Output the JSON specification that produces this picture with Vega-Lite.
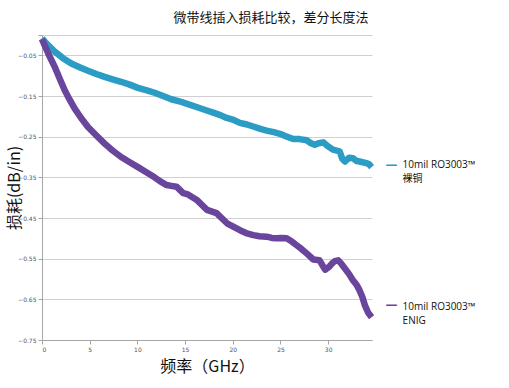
{
  "$schema": "https://vega.github.io/schema/vega-lite/v6.json",
  "width": 330,
  "height": 305,
  "autosize": {"type": "none"},
  "padding": {"left": 42, "top": 35, "right": 137, "bottom": 48},
  "background": "white",
  "title": {
    "text": "微带线插入损耗比较，差分长度法",
    "font": "Noto Sans CJK SC",
    "fontSize": 13,
    "fontWeight": "normal",
    "color": "#111111",
    "anchor": "middle",
    "frame": "group",
    "dx": 64,
    "offset": 10
  },
  "config": {
    "view": {"stroke": null},
    "axis": {
      "labelFont": "DejaVu Sans",
      "labelFontSize": 6,
      "labelColor": "#555555",
      "titleFont": "Noto Sans CJK SC",
      "titleFontSize": 16,
      "titleFontWeight": "normal",
      "titleColor": "#111111",
      "domainColor": "#a6a6a6",
      "tickColor": "#a6a6a6",
      "gridColor": "#d0d0d0",
      "tickSize": 4
    }
  },
  "data": {
    "values": [
      {"s": "10mil RO3003™\n裸铜", "f": 0, "v": -0.008},
      {"s": "10mil RO3003™\n裸铜", "f": 0.5, "v": -0.022},
      {"s": "10mil RO3003™\n裸铜", "f": 1.33, "v": -0.041},
      {"s": "10mil RO3003™\n裸铜", "f": 2.2, "v": -0.057},
      {"s": "10mil RO3003™\n裸铜", "f": 3.07, "v": -0.07},
      {"s": "10mil RO3003™\n裸铜", "f": 4.0, "v": -0.08},
      {"s": "10mil RO3003™\n裸铜", "f": 4.82, "v": -0.088},
      {"s": "10mil RO3003™\n裸铜", "f": 5.7, "v": -0.096},
      {"s": "10mil RO3003™\n裸铜", "f": 6.57, "v": -0.103},
      {"s": "10mil RO3003™\n裸铜", "f": 7.4, "v": -0.109},
      {"s": "10mil RO3003™\n裸铜", "f": 8.3, "v": -0.115},
      {"s": "10mil RO3003™\n裸铜", "f": 9.2, "v": -0.122},
      {"s": "10mil RO3003™\n裸铜", "f": 10.06, "v": -0.13},
      {"s": "10mil RO3003™\n裸铜", "f": 11.0, "v": -0.136},
      {"s": "10mil RO3003™\n裸铜", "f": 11.8, "v": -0.142},
      {"s": "10mil RO3003™\n裸铜", "f": 12.7, "v": -0.15},
      {"s": "10mil RO3003™\n裸铜", "f": 13.55, "v": -0.158},
      {"s": "10mil RO3003™\n裸铜", "f": 14.4, "v": -0.163},
      {"s": "10mil RO3003™\n裸铜", "f": 15.3, "v": -0.17},
      {"s": "10mil RO3003™\n裸铜", "f": 16.2, "v": -0.177},
      {"s": "10mil RO3003™\n裸铜", "f": 17.2, "v": -0.185},
      {"s": "10mil RO3003™\n裸铜", "f": 17.96, "v": -0.191},
      {"s": "10mil RO3003™\n裸铜", "f": 18.7, "v": -0.197},
      {"s": "10mil RO3003™\n裸铜", "f": 19.36, "v": -0.204},
      {"s": "10mil RO3003™\n裸铜", "f": 20.1, "v": -0.209},
      {"s": "10mil RO3003™\n裸铜", "f": 20.75, "v": -0.216},
      {"s": "10mil RO3003™\n裸铜", "f": 21.5, "v": -0.22},
      {"s": "10mil RO3003™\n裸铜", "f": 22.15, "v": -0.225},
      {"s": "10mil RO3003™\n裸铜", "f": 22.9, "v": -0.231},
      {"s": "10mil RO3003™\n裸铜", "f": 23.55, "v": -0.235},
      {"s": "10mil RO3003™\n裸铜", "f": 24.3, "v": -0.239},
      {"s": "10mil RO3003™\n裸铜", "f": 24.95, "v": -0.243},
      {"s": "10mil RO3003™\n裸铜", "f": 25.7, "v": -0.25},
      {"s": "10mil RO3003™\n裸铜", "f": 26.34, "v": -0.256},
      {"s": "10mil RO3003™\n裸铜", "f": 27.0, "v": -0.256},
      {"s": "10mil RO3003™\n裸铜", "f": 27.75, "v": -0.259},
      {"s": "10mil RO3003™\n裸铜", "f": 28.2, "v": -0.266},
      {"s": "10mil RO3003™\n裸铜", "f": 28.6, "v": -0.27},
      {"s": "10mil RO3003™\n裸铜", "f": 29.0, "v": -0.266},
      {"s": "10mil RO3003™\n裸铜", "f": 29.5, "v": -0.264},
      {"s": "10mil RO3003™\n裸铜", "f": 30.0, "v": -0.274},
      {"s": "10mil RO3003™\n裸铜", "f": 30.5, "v": -0.282},
      {"s": "10mil RO3003™\n裸铜", "f": 31.2, "v": -0.286},
      {"s": "10mil RO3003™\n裸铜", "f": 31.5, "v": -0.305},
      {"s": "10mil RO3003™\n裸铜", "f": 31.76, "v": -0.311},
      {"s": "10mil RO3003™\n裸铜", "f": 32.2, "v": -0.302},
      {"s": "10mil RO3003™\n裸铜", "f": 32.6, "v": -0.303},
      {"s": "10mil RO3003™\n裸铜", "f": 33.0, "v": -0.31},
      {"s": "10mil RO3003™\n裸铜", "f": 33.3, "v": -0.311},
      {"s": "10mil RO3003™\n裸铜", "f": 34.0, "v": -0.315},
      {"s": "10mil RO3003™\n裸铜", "f": 34.3, "v": -0.318},
      {"s": "10mil RO3003™\n裸铜", "f": 34.56, "v": -0.325},
      {"s": "10mil RO3003™\nENIG", "f": 0, "v": -0.01},
      {"s": "10mil RO3003™\nENIG", "f": 0.1, "v": -0.016},
      {"s": "10mil RO3003™\nENIG", "f": 0.7, "v": -0.048},
      {"s": "10mil RO3003™\nENIG", "f": 1.33, "v": -0.078},
      {"s": "10mil RO3003™\nENIG", "f": 1.85, "v": -0.107},
      {"s": "10mil RO3003™\nENIG", "f": 2.38, "v": -0.136},
      {"s": "10mil RO3003™\nENIG", "f": 2.9, "v": -0.159},
      {"s": "10mil RO3003™\nENIG", "f": 3.43, "v": -0.181},
      {"s": "10mil RO3003™\nENIG", "f": 4.1, "v": -0.204},
      {"s": "10mil RO3003™\nENIG", "f": 4.82, "v": -0.226},
      {"s": "10mil RO3003™\nENIG", "f": 5.7, "v": -0.247},
      {"s": "10mil RO3003™\nENIG", "f": 6.57, "v": -0.267},
      {"s": "10mil RO3003™\nENIG", "f": 7.4, "v": -0.284},
      {"s": "10mil RO3003™\nENIG", "f": 8.3, "v": -0.3},
      {"s": "10mil RO3003™\nENIG", "f": 9.2, "v": -0.313},
      {"s": "10mil RO3003™\nENIG", "f": 10.06, "v": -0.325},
      {"s": "10mil RO3003™\nENIG", "f": 10.9, "v": -0.337},
      {"s": "10mil RO3003™\nENIG", "f": 11.8, "v": -0.35},
      {"s": "10mil RO3003™\nENIG", "f": 12.4, "v": -0.36},
      {"s": "10mil RO3003™\nENIG", "f": 13.07, "v": -0.369},
      {"s": "10mil RO3003™\nENIG", "f": 13.55, "v": -0.371},
      {"s": "10mil RO3003™\nENIG", "f": 14.1, "v": -0.373},
      {"s": "10mil RO3003™\nENIG", "f": 14.8, "v": -0.389},
      {"s": "10mil RO3003™\nENIG", "f": 15.3, "v": -0.392},
      {"s": "10mil RO3003™\nENIG", "f": 16.2, "v": -0.405},
      {"s": "10mil RO3003™\nENIG", "f": 17.3, "v": -0.43},
      {"s": "10mil RO3003™\nENIG", "f": 18.3, "v": -0.438},
      {"s": "10mil RO3003™\nENIG", "f": 19.4, "v": -0.463},
      {"s": "10mil RO3003™\nENIG", "f": 20.75, "v": -0.48},
      {"s": "10mil RO3003™\nENIG", "f": 21.4, "v": -0.487},
      {"s": "10mil RO3003™\nENIG", "f": 22.15, "v": -0.492},
      {"s": "10mil RO3003™\nENIG", "f": 22.8, "v": -0.495},
      {"s": "10mil RO3003™\nENIG", "f": 23.55, "v": -0.496},
      {"s": "10mil RO3003™\nENIG", "f": 24.1, "v": -0.499},
      {"s": "10mil RO3003™\nENIG", "f": 24.6, "v": -0.5},
      {"s": "10mil RO3003™\nENIG", "f": 25.1, "v": -0.499},
      {"s": "10mil RO3003™\nENIG", "f": 25.65, "v": -0.5},
      {"s": "10mil RO3003™\nENIG", "f": 26.2, "v": -0.508},
      {"s": "10mil RO3003™\nENIG", "f": 26.7, "v": -0.517},
      {"s": "10mil RO3003™\nENIG", "f": 27.2, "v": -0.526},
      {"s": "10mil RO3003™\nENIG", "f": 27.75, "v": -0.537},
      {"s": "10mil RO3003™\nENIG", "f": 28.45, "v": -0.552},
      {"s": "10mil RO3003™\nENIG", "f": 29.1, "v": -0.554},
      {"s": "10mil RO3003™\nENIG", "f": 29.4, "v": -0.566},
      {"s": "10mil RO3003™\nENIG", "f": 29.7, "v": -0.577},
      {"s": "10mil RO3003™\nENIG", "f": 30.1, "v": -0.57},
      {"s": "10mil RO3003™\nENIG", "f": 30.4, "v": -0.562},
      {"s": "10mil RO3003™\nENIG", "f": 30.7, "v": -0.556},
      {"s": "10mil RO3003™\nENIG", "f": 31.06, "v": -0.554},
      {"s": "10mil RO3003™\nENIG", "f": 31.4, "v": -0.563},
      {"s": "10mil RO3003™\nENIG", "f": 31.76, "v": -0.574},
      {"s": "10mil RO3003™\nENIG", "f": 32.2, "v": -0.588},
      {"s": "10mil RO3003™\nENIG", "f": 32.6, "v": -0.603},
      {"s": "10mil RO3003™\nENIG", "f": 33.0, "v": -0.615},
      {"s": "10mil RO3003™\nENIG", "f": 33.3, "v": -0.628},
      {"s": "10mil RO3003™\nENIG", "f": 33.6, "v": -0.645},
      {"s": "10mil RO3003™\nENIG", "f": 33.86, "v": -0.665},
      {"s": "10mil RO3003™\nENIG", "f": 34.2, "v": -0.683},
      {"s": "10mil RO3003™\nENIG", "f": 34.56, "v": -0.694}
    ]
  },
  "encoding": {
    "x": {
      "field": "f",
      "type": "quantitative",
      "scale": {"domain": [0, 34.6], "nice": false, "zero": false},
      "axis": {
        "title": "频率（GHz）",
        "values": [0, 5, 10, 15, 20, 25, 30],
        "grid": false,
        "labelPadding": 2,
        "titlePadding": 6
      }
    },
    "y": {
      "field": "v",
      "type": "quantitative",
      "scale": {"domain": [-0.75, 0], "nice": false, "zero": false},
      "axis": {
        "title": "损耗(dB/in)",
        "values": [0, -0.05, -0.15, -0.25, -0.35, -0.45, -0.55, -0.65, -0.75],
        "labelExpr": "datum.value == 0 ? '' : format(datum.value, '.2f')",
        "labelPadding": 2,
        "titlePadding": -5
      }
    }
  },
  "layer": [
    {
      "mark": {"type": "line", "strokeWidth": 6.5, "strokeJoin": "round"},
      "encoding": {
        "color": {
          "field": "s",
          "type": "nominal",
          "scale": {
            "domain": ["10mil RO3003™\n裸铜", "10mil RO3003™\nENIG"],
            "range": ["#2b9cc4", "#6a459c"]
          },
          "legend": null
        }
      }
    },
    {
      "transform": [
        {"joinaggregate": [{"op": "max", "field": "f", "as": "fmax"}], "groupby": ["s"]},
        {"filter": "datum.f == datum.fmax && datum.s == '10mil RO3003™\\n裸铜'"}
      ],
      "layer": [
        {
          "mark": {"type": "text", "text": "—", "align": "left", "baseline": "middle", "dx": 14, "dy": -2, "fontSize": 12, "fontWeight": "bold", "color": "#2b9cc4", "font": "DejaVu Sans"}
        },
        {
          "mark": {"type": "text", "align": "left", "baseline": "middle", "dx": 31, "dy": -2, "fontSize": 10, "lineBreak": "\n", "lineHeight": 14, "color": "#111111", "font": "Open Sans, Noto Sans CJK SC"},
          "encoding": {"text": {"field": "s"}}
        }
      ]
    },
    {
      "transform": [
        {"joinaggregate": [{"op": "max", "field": "f", "as": "fmax"}], "groupby": ["s"]},
        {"filter": "datum.f == datum.fmax && datum.s == '10mil RO3003™\\nENIG'"}
      ],
      "layer": [
        {
          "mark": {"type": "text", "text": "—", "align": "left", "baseline": "middle", "dx": 14, "dy": -12, "fontSize": 12, "fontWeight": "bold", "color": "#6a459c", "font": "DejaVu Sans"}
        },
        {
          "mark": {"type": "text", "align": "left", "baseline": "middle", "dx": 31, "dy": -10, "fontSize": 10, "lineBreak": "\n", "lineHeight": 14, "color": "#111111", "font": "Open Sans, Noto Sans CJK SC"},
          "encoding": {"text": {"field": "s"}}
        }
      ]
    }
  ]
}
